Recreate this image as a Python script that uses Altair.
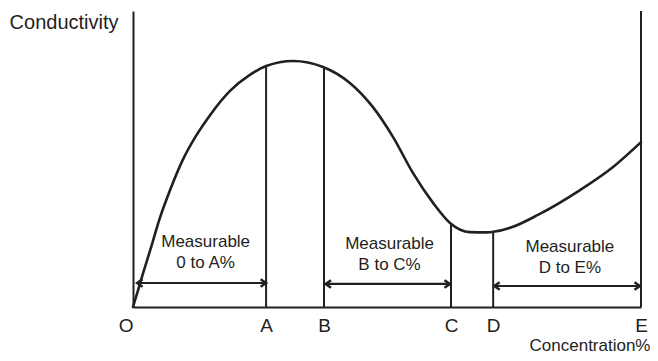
import altair as alt
import pandas as pd

INK = "#231f20"
FONT = "Liberation Sans"

# Conductivity curve (concentration %, conductivity, both 0-100 of the frame)
curve_x = [0, 1.0, 2.0, 3.4, 5.3, 7.3, 9.8, 12.4, 15.2, 19.1, 23.0, 26.2, 31.5, 37.4, 42.7,
           47.2, 51.2, 55.1, 59.1, 62.4, 66.3, 69.7, 70.9, 74.8, 79.7, 88.0, 94.5, 100]
curve_y = [0, 5.7, 11.5, 19.3, 30.1, 39.5, 49.7, 57.8, 64.9, 73.0, 78.4, 81.4, 83.1, 81.1, 75.7,
           67.6, 57.4, 45.3, 35.1, 28.4, 25.3, 25.2, 25.4, 27.1, 31.1, 39.5, 47.3, 55.7]

# Marked concentrations on the x axis
marker_names = ["O", "A", "B", "C", "D", "E"]
marker_x = [0, 26.2, 37.6, 62.6, 70.9, 100]

# Vertical lines (A, B, C, D up to the curve, E full height)
vline_x = [26.2, 37.6, 62.6, 70.9, 100]
vline_top = [81.4, 81.1, 27.7, 25.3, 100]

# Measurable ranges (double-headed arrows)
arrow_start = [0.8, 37.9, 71.1]
arrow_end = [26.2, 62.4, 99.8]
arrow_y = [8.1, 7.8, 7.1]

# Range captions
caption_text = ["Measurable\n0 to A%", "Measurable\nB to C%", "Measurable\nD to E%"]
caption_x = [14.3, 50.5, 86.0]
caption_y = [20.2, 19.6, 18.7]

curve_df = pd.DataFrame({"x": curve_x, "y": curve_y})
vline_df = pd.DataFrame({"x": vline_x, "y": [0] * len(vline_x), "y2": vline_top})
arrow_df = pd.DataFrame({"x": arrow_start, "x2": arrow_end, "y": arrow_y})
left_df = pd.DataFrame({"x": arrow_start, "y": arrow_y})
right_df = pd.DataFrame({"x": arrow_end, "y": arrow_y})
cap_df = pd.DataFrame({"x": caption_x, "y": caption_y, "t": caption_text})

xs = alt.Scale(domain=[0, 100], nice=False, zero=False)
ys = alt.Scale(domain=[0, 100], nice=False, zero=False)

vals_js = "[" + ",".join(str(v) for v in marker_x) + "]"
names_js = "[" + ",".join("'" + n + "'" for n in marker_names) + "]"

x_axis = alt.Axis(
    values=marker_x,
    labelExpr=f"{names_js}[indexof({vals_js}, datum.value)]",
    labelAlign={"condition": {"test": "datum.value == 0", "value": "right"}, "value": "center"},
    labelBaseline="alphabetic",
    labelPadding=24,
    labelFlush=False,
    labelOverlap=False,
    labelFont=FONT,
    labelFontSize=19,
    labelColor=INK,
    ticks=False,
    tickSize=0,
    grid=False,
    domainColor=INK,
    domainWidth=2.2,
    title="Concentration%",
    titleX=517,
    titleY=43,
    titleAlign="right",
    titleBaseline="alphabetic",
    titleFont=FONT,
    titleFontSize=17,
    titleFontWeight="normal",
    titleColor=INK,
)
y_axis = alt.Axis(
    labels=False,
    ticks=False,
    tickSize=0,
    grid=False,
    domainColor=INK,
    domainWidth=2,
    title="Conductivity",
    titleAngle=0,
    titleX=-15,
    titleY=17,
    titleAlign="right",
    titleBaseline="alphabetic",
    titleFont=FONT,
    titleFontSize=20,
    titleFontWeight="normal",
    titleColor=INK,
)

X = alt.X("x:Q", scale=xs, axis=x_axis)
Y = alt.Y("y:Q", scale=ys, axis=y_axis)

curve = alt.Chart(curve_df).mark_line(
    color=INK, strokeWidth=2.6, interpolate="monotone", strokeCap="round"
).encode(x=X, y=Y, order="x:Q")

vlines = alt.Chart(vline_df).mark_rule(color=INK, strokeWidth=2).encode(
    x=X, y=Y, y2="y2:Q"
)

arrows = alt.Chart(arrow_df).mark_rule(color=INK, strokeWidth=2.2).encode(
    x=X, x2="x2:Q", y=Y
)

left_heads = alt.Chart(left_df).mark_point(
    shape="M1.1,-0.75L0,0L1.1,0.75", size=100, filled=False,
    stroke=INK, strokeWidth=2.4, opacity=1
).encode(x=X, y=Y)

right_heads = alt.Chart(right_df).mark_point(
    shape="M-1.1,-0.75L0,0L-1.1,0.75", size=100, filled=False,
    stroke=INK, strokeWidth=2.4, opacity=1
).encode(x=X, y=Y)

captions = alt.Chart(cap_df).mark_text(
    font=FONT, fontSize=17, color=INK, align="center", baseline="alphabetic",
    lineBreak="\n", lineHeight=21
).encode(x=X, y=Y, text="t:N")

chart = alt.layer(curve, vlines, arrows, left_heads, right_heads, captions).properties(
    width=508,
    height=296,
    autosize=alt.AutoSizeParams(type="none"),
    padding={"left": 125, "top": 3, "right": 9, "bottom": 46},
).configure_view(stroke=None)

chart.save("out.html", embed_options={"renderer": "svg", "actions": False})
